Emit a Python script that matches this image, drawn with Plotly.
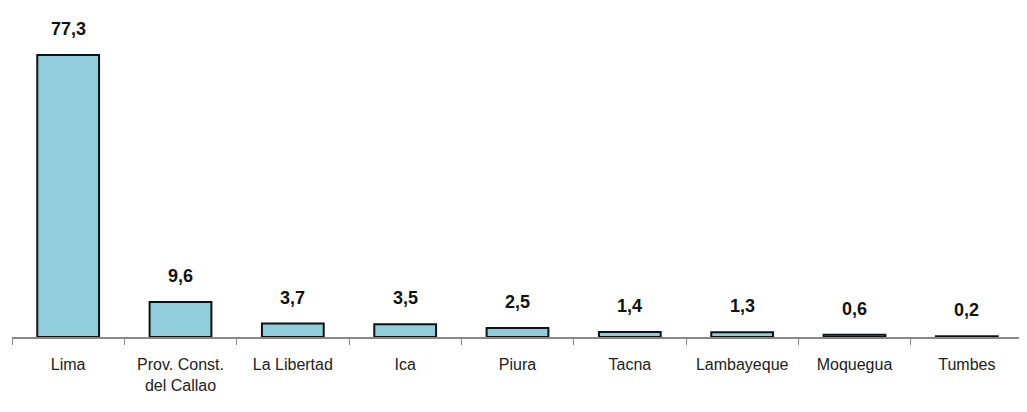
import plotly.graph_objects as go

categories = ["Lima", "Prov. Const.<br>del Callao", "La Libertad", "Ica", "Piura",
              "Tacna", "Lambayeque", "Moquegua", "Tumbes"]
values = [77.3, 9.6, 3.7, 3.5, 2.5, 1.4, 1.3, 0.6, 0.2]
value_labels = ["77,3", "9,6", "3,7", "3,5", "2,5", "1,4", "1,3", "0,6", "0,2"]

fig = go.Figure(go.Bar(
    x=categories, y=values,
    marker=dict(color="#92CDDC", line=dict(color="#111111", width=2)),
    cliponaxis=False,
))

for c, v, t in zip(categories, values, value_labels):
    fig.add_annotation(
        x=c, y=v, text=f"<b>{t}</b>", showarrow=False,
        yanchor="bottom", yshift=14,
        font=dict(family="Liberation Sans", size=18, color="#111111"),
    )

fig.update_layout(
    width=1027, height=412,
    margin=dict(l=4, r=12, t=32, b=83, autoexpand=False),
    paper_bgcolor="white", plot_bgcolor="white",
    bargap=0.45,
    showlegend=False,
    font=dict(family="Liberation Sans", color="#222222"),
)
fig.update_xaxes(
    automargin=False,
    showline=True, linecolor="#888888", linewidth=1.5,
    ticks="outside", tickson="boundaries", ticklen=6, tickcolor="#888888",
    ticklabelstandoff=12,
    tickfont=dict(family="Liberation Sans", size=16, color="#222222"),
    showgrid=False,
)
fig.update_yaxes(visible=False, range=[0, 81.4], automargin=False)

fig.write_html("out.html")
